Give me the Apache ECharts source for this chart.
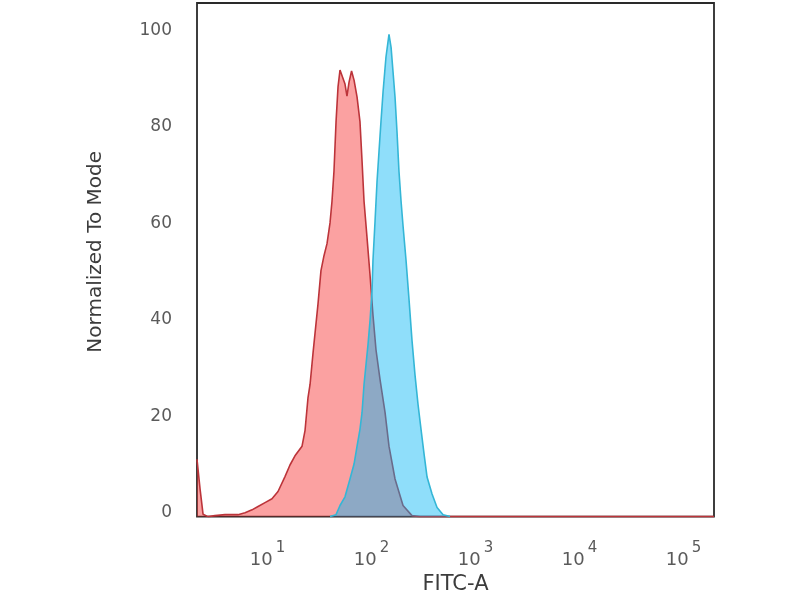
<!DOCTYPE html>
<html>
<head>
<meta charset="utf-8">
<script src="https://cdn.jsdelivr.net/npm/echarts@6/dist/echarts.min.js"></script>
<style>
  html, body { margin: 0; padding: 0; background: #fff; }
  #chart { width: 800px; height: 600px; }
</style>
</head>
<body>
<div id="chart"></div>
<script>
// x values are log10(FITC-A intensity)
const redX = [0.322, 0.351, 0.380, 0.428, 0.495, 0.591, 0.716, 0.784, 0.851, 0.909, 0.976, 1.043, 1.101, 1.168, 1.216, 1.264, 1.332, 1.361, 1.389, 1.409, 1.438, 1.486, 1.514, 1.543, 1.572, 1.601, 1.620, 1.639, 1.659, 1.678, 1.697, 1.716, 1.745, 1.764, 1.784, 1.808, 1.832, 1.861, 1.889, 1.909, 1.928, 1.957, 1.986, 2.014, 2.043, 2.082, 2.130, 2.168, 2.226, 2.303, 2.389, 2.466, 5.293];
const redY = [11.9, 5.8, 0.5, 0, 0.2, 0.4, 0.4, 0.8, 1.4, 2.1, 2.9, 3.7, 5.2, 8.3, 10.7, 12.6, 14.6, 17.9, 24.6, 27.4, 34.0, 44.2, 51.0, 54.1, 56.6, 60.9, 65.4, 71.6, 81.9, 89.1, 92.6, 92.2, 89.7, 87.2, 90.1, 92.4, 90.5, 87.0, 81.9, 73.7, 65.4, 57.8, 50.0, 41.8, 34.6, 28.4, 21.6, 14.6, 7.8, 2.3, 0.2, 0, 0];
const blueX = [1.601, 1.659, 1.697, 1.745, 1.793, 1.832, 1.861, 1.889, 1.909, 1.928, 1.947, 1.966, 1.986, 2.005, 2.014, 2.034, 2.053, 2.072, 2.091, 2.111, 2.139, 2.168, 2.188, 2.207, 2.226, 2.245, 2.264, 2.284, 2.303, 2.332, 2.361, 2.389, 2.418, 2.447, 2.476, 2.505, 2.534, 2.582, 2.630, 2.688, 2.755];
const blueY = [0, 0.4, 2.3, 4.1, 7.8, 10.9, 14.6, 18.1, 21.6, 27.4, 31.5, 35.6, 40.7, 46.9, 53.1, 61.3, 69.5, 75.7, 81.9, 88.1, 95.3, 100, 97.3, 92.2, 87.0, 79.8, 71.6, 65.4, 60.3, 53.1, 44.9, 36.6, 29.4, 23.3, 18.1, 13.0, 8.2, 4.7, 1.9, 0.4, 0];
const xTickExponents = [1, 2, 3, 4, 5];
const yTicks = [0, 20, 40, 60, 80, 100];

const pairs = (xs, ys) => xs.map((x, i) => [x, ys[i]]);

const chart = echarts.init(document.getElementById('chart'));
chart.setOption({
  animation: false,
  backgroundColor: '#ffffff',
  grid: {
    left: 197, top: 3, right: 86, bottom: 79,
    show: true, borderColor: '#2a2a2a', borderWidth: 1.8,
    backgroundColor: 'transparent'
  },
  xAxis: {
    type: 'value',
    min: 0.322, max: 5.293,
    name: 'FITC-A',
    nameLocation: 'middle',
    nameGap: 57,
    nameTextStyle: { fontFamily: 'DejaVu Sans', fontSize: 21, color: '#3c3c3c' },
    axisLine: { show: false },
    axisTick: { show: false },
    splitLine: { show: false },
    axisLabel: {
      customValues: xTickExponents,
      margin: 24,
      formatter: function (v) { return '{b|10}{sup|' + v + '}'; },
      rich: {
        b: { fontFamily: 'DejaVu Sans', fontSize: 18, color: '#5a5a5a' },
        sup: { fontFamily: 'DejaVu Sans', fontSize: 15, color: '#5a5a5a', padding: [0, 0, 24, 3] }
      }
    }
  },
  yAxis: {
    type: 'value',
    min: 0, max: 106.5,
    name: 'Normalized To Mode',
    nameLocation: 'middle',
    nameGap: 91,
    nameTextStyle: { fontFamily: 'DejaVu Sans', fontSize: 20, color: '#3c3c3c', padding: [0, 0, 0, 16] },
    axisLine: { show: false },
    axisTick: { show: false },
    splitLine: { show: false },
    axisLabel: {
      customValues: yTicks,
      margin: 25,
      fontFamily: 'DejaVu Sans',
      fontSize: 17,
      color: '#5a5a5a',
      verticalAlign: 'bottom',
      lineHeight: 8
    }
  },
  series: [
    {
      name: 'Isotype control',
      type: 'line',
      data: pairs(redX, redY),
      showSymbol: false,
      lineStyle: { color: 'rgb(188,52,58)', width: 1.6 },
      areaStyle: { color: 'rgba(245,40,40,0.44)', opacity: 1, origin: 'start' },
      z: 2
    },
    {
      name: 'Antibody',
      type: 'line',
      data: pairs(blueX, blueY),
      showSymbol: false,
      lineStyle: { color: 'rgb(52,182,214)', width: 1.6 },
      areaStyle: { color: 'rgba(0,180,243,0.44)', opacity: 1, origin: 'start' },
      z: 3
    }
  ]
});
</script>
</body>
</html>
